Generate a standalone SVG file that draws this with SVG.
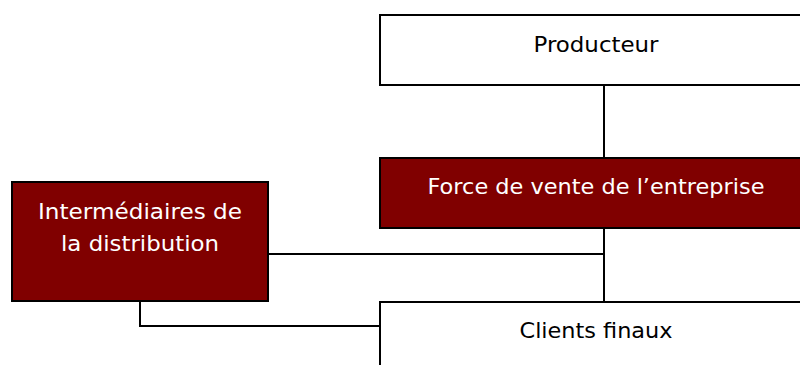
<svg xmlns="http://www.w3.org/2000/svg" width="800" height="365" viewBox="0 0 800 365">
<style>
.box{stroke:#000;stroke-width:2}
.w{fill:#fff}
.r{fill:#800000}
.t{font-family:"Comic Sans MS","DejaVu Sans",sans-serif;font-size:21px;text-anchor:middle}
.tw{fill:#fff}
.tb{fill:#000}
.c{fill:none;stroke:#000;stroke-width:2}
</style>
<rect width="800" height="365" fill="#fff"/>
<g id="connectors">
<line class="c" x1="604" y1="85" x2="604" y2="158"/>
<line class="c" x1="604" y1="228" x2="604" y2="302"/>
<line class="c" x1="268" y1="254" x2="604" y2="254"/>
<polyline class="c" points="140,301 140,326 380,326"/>
</g>
<g id="producteur">
<rect class="box w" x="380" y="15" width="430" height="70"/>
<text class="t tb" x="596" y="52" textLength="125" lengthAdjust="spacingAndGlyphs">Producteur</text>
</g>
<g id="force">
<rect class="box r" x="380" y="158" width="430" height="70"/>
<text class="t tw" x="596" y="194" textLength="337" lengthAdjust="spacingAndGlyphs">Force de vente de l’entreprise</text>
</g>
<g id="intermediaires">
<rect class="box r" x="12" y="182" width="256" height="119"/>
<text class="t tw" x="140" y="219" textLength="204" lengthAdjust="spacingAndGlyphs">Intermédiaires de</text>
<text class="t tw" x="140" y="251" textLength="158" lengthAdjust="spacingAndGlyphs">la distribution</text>
</g>
<g id="clients">
<rect class="box w" x="380" y="302" width="430" height="80"/>
<text class="t tb" x="596" y="338" textLength="153" lengthAdjust="spacingAndGlyphs">Clients finaux</text>
</g>
</svg>
